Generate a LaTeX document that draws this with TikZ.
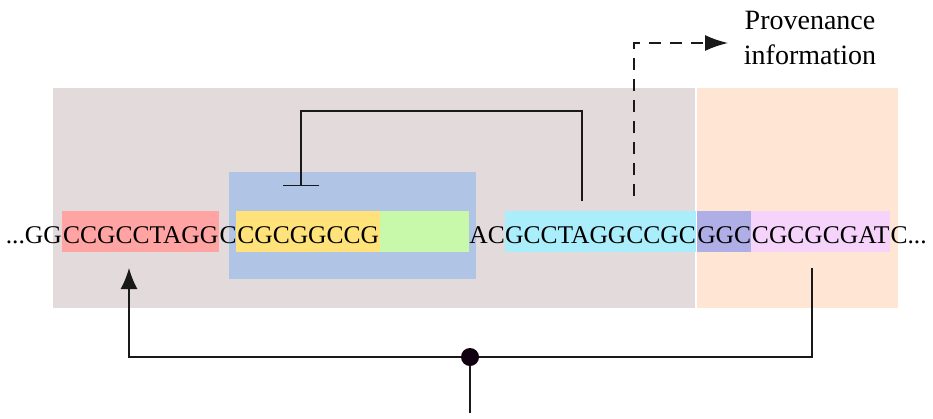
\documentclass[tikz,border=0pt]{standalone}
\usepackage{fontspec}
\setmainfont{Liberation Serif}
\usetikzlibrary{positioning,arrows.meta}
\definecolor{hostbg}{RGB}{226,218,219}
\definecolor{plasmidbg}{RGB}{255,229,212}
\definecolor{operonbg}{RGB}{176,196,230}
\definecolor{redseq}{RGB}{255,163,163}
\definecolor{yellowseq}{RGB}{255,227,122}
\definecolor{greenseq}{RGB}{200,248,170}
\definecolor{cyanseq}{RGB}{170,238,251}
\definecolor{purpleseq}{RGB}{176,174,230}
\definecolor{pinkseq}{RGB}{245,211,251}
\definecolor{dotfill}{RGB}{16,0,16}
\tikzset{
        seq/.style={font=\fontsize{25.5}{30}\selectfont, text height=23pt, text depth=0pt, inner xsep=0pt, inner ysep=0pt, minimum height=41pt},
        seqbox/.style={seq, anchor=west},
        region/.style={draw=none, inner sep=0pt, anchor=north west},
        link/.style={draw=black!90, line width=1.5pt},
        provlink/.style={link, dash pattern=on 12pt off 9pt},
        junction/.style={circle, fill=dotfill, inner sep=0pt, minimum size=18pt},
        label/.style={font=\fontsize{28}{35}\selectfont, align=center}
          }
\begin{document}
\begin{tikzpicture}[x=1pt, y=-1pt]
            \useasboundingbox (0,0) rectangle (933,418);
            % background regions
            \node[region, fill=hostbg, minimum width=642pt, minimum height=220pt] (host) at (53,88) {};
            \node[region, fill=plasmidbg, minimum width=201pt, minimum height=220pt] (plasmid) at (697,88) {};
            \node[region, fill=operonbg, minimum width=247pt, minimum height=107pt] (operon) at (229,172) {};
            % sequence
            \node[seqbox, fill=redseq, minimum width=157pt] (red) at (62,231.5) {CCGCCTAGG};
            \node[seq, left=0pt of red] (lefttxt) {...GG};
            \node[seq, right=0pt of red] (gapc) {C};
            \node[seqbox, fill=yellowseq, minimum width=144pt] (yellow) at (236,231.5) {CGCGGCCG};
            \node[seqbox, fill=greenseq, minimum width=89pt] (green) at (380,231.5) {};
            \node[seqbox, fill=cyanseq, minimum width=189pt] (cyan) at (505,231.5) {GCCTAGGCCGC};
            \node[seq, left=0pt of cyan] (gapac) {AC};
            \node[seqbox, fill=purpleseq, minimum width=54pt] (purple) at (697,231.5) {GGC};
            \node[seqbox, fill=pinkseq, minimum width=139pt] (pink) at (751,231.5) {CGCGCGAT};
            \node[seq, right=0pt of pink] (righttxt) {C...};
            % repression
            \coordinate (repfrom) at (582,201);
            \coordinate (repto) at (301,186);
            \draw[link, -{Bar[width=36pt]}] (repfrom) -- ++(0,-90) -| (repto);
            % provenance
            \node[label] (prov) at (810,38) {Provenance\\information};
            \coordinate (provfrom) at (634,196);
            \coordinate (provto) at (728,43);
            \draw[provlink, -{Latex[length=23pt, width=16pt]}] (provfrom) |- (provto);
            % origin
            \node[junction] (join) at (470,357) {};
            \coordinate (hostpt) at (129,268);
            \coordinate (plasmidpt) at (812,268);
            \coordinate (stem) at (470,413);
            \draw[link, -{Latex[length=21pt, width=17pt]}] (join) -| (hostpt);
            \draw[link] (join) -| (plasmidpt);
            \draw[link] (join) -- (stem);
          \end{tikzpicture}
\end{document}
